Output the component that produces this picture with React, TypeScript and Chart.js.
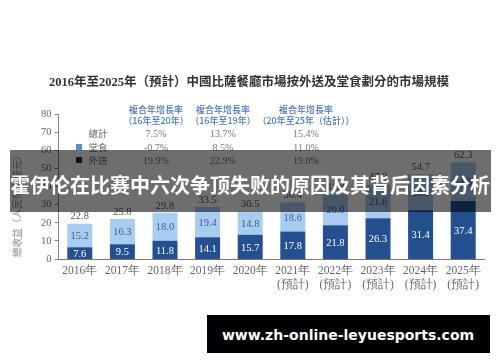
import React, { useEffect, useRef } from "react";
import { Chart, registerables } from "chart.js";

Chart.register(...registerables);

const categories: (string | string[])[] = [
  "2016年", "2017年", "2018年", "2019年", "2020年",
  ["2021年", "(預計)"], ["2022年", "(預計)"], ["2023年", "(預計)"], ["2024年", "(預計)"], ["2025年", "(預計)"],
];
const deliveryValues = [7.6, 9.5, 11.8, 14.1, 15.7, 17.8, 21.8, 26.3, 31.4, 37.4];
const dineInValues = [15.2, 16.3, 18.0, 19.4, 14.8, 18.6, 20.0, 21.6, 23.3, 24.9];
const totalValues = [22.8, 25.8, 29.8, 33.5, 30.5, 36.4, 41.8, 47.9, 54.7, 62.3];
const yTicks = [0, 10, 20, 30, 40, 50, 60, 70, 80];

const cagrHeaders = [
  ["複合年增長率", "（16年至20年）"],
  ["複合年增長率", "（16年至19年）"],
  ["複合年增長率", "（20年至25年（估計））"],
];
const cagrRowLabels = ["總計", "堂食", "外送"];
const cagrTotal = ["7.5%", "13.7%", "15.4%"];
const cagrDineIn = ["-0.7%", "8.5%", "11.0%"];
const cagrDelivery = ["19.9%", "22.9%", "19.0%"];

const titleText = "2016年至2025年（預計）中國比薩餐廳市場按外送及堂食劃分的市場規模";
const yAxisTitle = "總收益（人民幣十億元）";
const bannerText = "霍伊伦在比赛中六次争顶失败的原因及其背后因素分析";
const watermarkText = "www.zh-online-leyuesports.com";

const DARK = "#24508f";
const LIGHT = "#a8cdf0";
const SERIF = '"Liberation Serif", "DejaVu Serif", serif';
const CJK = '"Noto Sans CJK TC", "Noto Sans CJK SC", sans-serif';

const labelPlugin = {
  id: "barLabels",
  afterDatasetsDraw(chart: any) {
    const ctx = chart.ctx;
    ctx.save();
    ctx.font = `10.5px ${SERIF}`;
    ctx.textAlign = "center";
    ctx.textBaseline = "middle";
    const m0 = chart.getDatasetMeta(0);
    const m1 = chart.getDatasetMeta(1);
    m0.data.forEach((el: any, i: number) => {
      ctx.fillStyle = "#ffffff";
      ctx.fillText(deliveryValues[i].toFixed(1), el.x, (el.y + el.base) / 2 + 1);
    });
    m1.data.forEach((el: any, i: number) => {
      ctx.fillStyle = "#3b5e96";
      ctx.fillText(dineInValues[i].toFixed(1), el.x, (el.y + el.base) / 2 + 1);
      ctx.fillStyle = "#555555";
      ctx.fillText(totalValues[i].toFixed(1), el.x, el.y - 7);
    });
    ctx.restore();
  },
};

function ChartCanvas() {
  const ref = useRef<HTMLCanvasElement | null>(null);
  useEffect(() => {
    if (!ref.current) return;
    const chart = new Chart(ref.current, {
      type: "bar",
      data: {
        labels: categories as any,
        datasets: [
          { label: "外送", data: deliveryValues, backgroundColor: DARK, yAxisID: "y2", stack: "s" },
          { label: "堂食", data: dineInValues, backgroundColor: LIGHT, yAxisID: "y2", stack: "s" },
        ],
      },
      options: {
        responsive: false,
        animation: false,
        layout: { padding: { top: 114, right: 15.5, left: 0, bottom: 0 } },
        plugins: { legend: { display: false }, tooltip: { enabled: false }, title: { display: false } },
        datasets: { bar: { barPercentage: 0.587, categoryPercentage: 1 } } as any,
        scales: {
          x: {
            stacked: true,
            grid: { display: false, drawTicks: false },
            border: { display: true, color: "#777", width: 1 },
            ticks: { color: "#666", font: { family: SERIF, size: 11.5 }, padding: 5, maxRotation: 0, autoSkip: false },
            afterFit: (s: any) => { s.height = 103; },
          },
          y: {
            position: "left",
            min: 0,
            max: 80,
            afterBuildTicks: (s: any) => { s.ticks = yTicks.map((v) => ({ value: v })); },
            grid: { drawOnChartArea: false, drawTicks: true, tickLength: 4, color: "#888" },
            border: { display: true, color: "#888", width: 1 },
            ticks: { color: "#666", font: { family: SERIF, size: 10.5 }, padding: 3 },
            afterFit: (s: any) => { s.width = 58.5; },
          },
          y2: {
            display: false,
            stacked: true,
            min: 0,
            max: 93.5,
          },
        },
      },
      plugins: [labelPlugin],
    });
    return () => chart.destroy();
  }, []);
  return <canvas ref={ref} width={500} height={362} style={{ position: "absolute", left: 0, top: 0, width: 500, height: 362 }} />;
}

const abs = (x: number, y: number, extra: React.CSSProperties = {}): React.CSSProperties => ({
  position: "absolute",
  left: x,
  top: y,
  transform: "translate(-50%, -50%)",
  whiteSpace: "nowrap",
  ...extra,
});

export default function App() {
  const colX = [156, 223, 306];
  const rowY = [133, 147, 160];
  const rows = [cagrTotal, cagrDineIn, cagrDelivery];
  return (
    <div style={{ position: "fixed", left: 0, top: 0, width: 500, height: 362, background: "#fff", overflow: "hidden" }}>
      <ChartCanvas />
      <div style={abs(249, 80, { fontFamily: `"Liberation Serif", ${CJK}`, fontWeight: 700, fontSize: 12.5, color: "#333" })}>{titleText}</div>
      {cagrHeaders.map((h, i) => (
        <React.Fragment key={i}>
          <div style={abs(colX[i], 109, { fontFamily: CJK, fontSize: 9, color: "#4a78b8", fontWeight: 500 })}>{h[0]}</div>
          <div style={abs(colX[i], 120, { fontFamily: CJK, fontSize: 9, color: "#4a78b8", fontWeight: 500 })}>{h[1]}</div>
        </React.Fragment>
      ))}
      {cagrRowLabels.map((l, r) => (
        <div key={l} style={abs(98, rowY[r], { fontFamily: CJK, fontSize: 9.5, color: "#666" })}>{l}</div>
      ))}
      <div style={{ position: "absolute", left: 76, top: rowY[1] - 3, width: 6, height: 6, background: "#5b8fc9" }} />
      <div style={{ position: "absolute", left: 76, top: rowY[2] - 3, width: 6, height: 6, background: "#1b2b4b" }} />
      {rows.map((vals, r) =>
        vals.map((v, c) => (
          <div key={`${r}-${c}`} style={abs(colX[c], rowY[r], { fontFamily: SERIF, fontSize: 10, color: "#777" })}>{v}</div>
        ))
      )}
      <div style={abs(17, 204, { fontFamily: CJK, fontSize: 9.7, color: "#888", transform: "translate(-50%, -50%) rotate(-90deg)" })}>{yAxisTitle}</div>
      <div style={{ position: "absolute", left: 10, top: 150, width: 481, height: 62, background: "rgba(0,0,0,0.57)" }} />
      <div style={abs(250, 184, { fontFamily: '"Noto Sans CJK SC", sans-serif', fontWeight: 700, fontSize: 20, color: "#fff" })}>{bannerText}</div>
      <div style={{ position: "absolute", left: 207, top: 315, width: 283, height: 38, background: "#000" }} />
      <div style={abs(348, 335, { fontFamily: '"DejaVu Sans", sans-serif', fontWeight: 700, fontSize: 14, color: "#fff" })}>{watermarkText}</div>
    </div>
  );
}
